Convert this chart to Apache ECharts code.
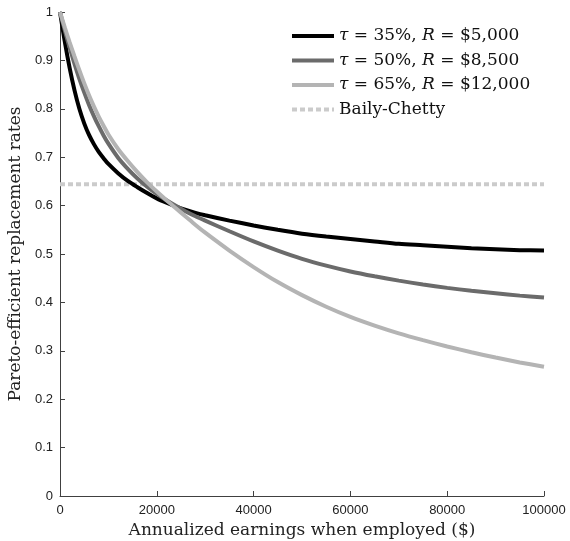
<!DOCTYPE html>
<html>
<head>
<meta charset="utf-8">
<script src="https://cdn.jsdelivr.net/npm/echarts@6/dist/echarts.min.js"></script>
<style>
  html, body { margin: 0; padding: 0; background: #fff; }
  #chart { width: 570px; height: 541px; }
</style>
</head>
<body>
<div id="chart"></div>
<script>
// annualized earnings (x)
var earnings = [0, 1000, 2000, 3000, 4000, 5000, 6000, 7000, 8000, 9000, 10000,
    12000, 14000, 16000, 18000, 20000, 22000, 24000, 26000, 28000, 30000,
    35000, 40000, 45000, 50000, 55000, 60000, 65000, 70000, 75000, 80000,
    85000, 90000, 95000, 100000];

// tau = 35%, R = $5,000
var rate35 = [1.000, 0.938, 0.884, 0.838, 0.800, 0.770, 0.746, 0.727, 0.711, 0.698, 0.686,
    0.667, 0.651, 0.638, 0.626, 0.615, 0.606, 0.598, 0.591, 0.585, 0.580,
    0.569, 0.559, 0.550, 0.542, 0.536, 0.531, 0.526, 0.521, 0.518, 0.515,
    0.512, 0.510, 0.508, 0.507];

// tau = 50%, R = $8,500
var rate50 = [1.000, 0.962, 0.926, 0.893, 0.862, 0.834, 0.808, 0.785, 0.764, 0.745, 0.728,
    0.699, 0.676, 0.656, 0.639, 0.624, 0.611, 0.599, 0.588, 0.578, 0.569,
    0.547, 0.526, 0.507, 0.490, 0.476, 0.464, 0.454, 0.445, 0.437, 0.430,
    0.424, 0.419, 0.414, 0.410];

// tau = 65%, R = $12,000
var rate65 = [1.000, 0.968, 0.937, 0.908, 0.880, 0.853, 0.828, 0.805, 0.784, 0.765, 0.747,
    0.717, 0.692, 0.669, 0.648, 0.629, 0.611, 0.594, 0.577, 0.560, 0.544,
    0.507, 0.473, 0.442, 0.415, 0.391, 0.370, 0.352, 0.336, 0.322, 0.309,
    0.297, 0.286, 0.276, 0.267];

var bailyChetty = 0.644;

var seriesNames = ['t35', 't50', 't65', 'Baily-Chetty'];
var legendLabels = {
    't35': '{i|τ} = 35%, {i|R} = $5,000',
    't50': '{i|τ} = 50%, {i|R} = $8,500',
    't65': '{i|τ} = 65%, {i|R} = $12,000',
    'Baily-Chetty': 'Baily-Chetty'
};

function pairs(xs, ys) {
    return xs.map(function (x, i) { return [x, ys[i]]; });
}

var chart = echarts.init(document.getElementById('chart'), null, { renderer: 'canvas' });

var serif = '"DejaVu Serif", "Liberation Serif", serif';
var sans = '"Liberation Sans", Arial, sans-serif';
var axisColor = '#404040';

// legend icons: solid bar and dotted bar
var solidIcon = 'path://M0,0H42V4H0Z';
var dottedIcon = 'path://M0,0h5v4h-5z M8,0h5v4h-5z M16,0h5v4h-5z M24,0h5v4h-5z M32,0h5v4h-5z M40,0h2v4h-2z';

var option = {
    backgroundColor: '#fff',
    animation: false,
    grid: { left: 60, right: 26, top: 12, bottom: 45, containLabel: false, outerBoundsMode: 'none' },
    legend: {
        data: seriesNames.map(function (n) {
            return { name: n, icon: n === 'Baily-Chetty' ? dottedIcon : solidIcon };
        }),
        orient: 'vertical',
        left: 292,
        top: 26,
        padding: 0,
        itemWidth: 42,
        itemHeight: 4,
        itemGap: 4.5,
        formatter: function (name) { return legendLabels[name]; },
        textStyle: {
            fontFamily: serif,
            fontSize: 17,
            lineHeight: 20,
            color: '#111',
            rich: {
                i: { fontFamily: serif, fontStyle: 'italic', fontSize: 17, lineHeight: 20, color: '#111' }
            }
        }
    },
    xAxis: {
        type: 'value',
        min: 0,
        max: 100000,
        interval: 20000,
        name: 'Annualized earnings when employed ($)',
        nameLocation: 'middle',
        nameGap: 18,
        nameTextStyle: { fontFamily: serif, fontSize: 17, color: '#222' },
        axisLine: { show: true, lineStyle: { color: axisColor, width: 1 } },
        axisTick: { show: true, inside: true, length: 5, lineStyle: { color: axisColor } },
        axisLabel: {
            fontFamily: sans, fontSize: 13, color: '#222', margin: 8,
            formatter: function (v) { return String(v); }
        },
        splitLine: { show: false }
    },
    yAxis: {
        type: 'value',
        min: 0,
        max: 1,
        interval: 0.1,
        name: 'Pareto-efficient replacement rates',
        nameLocation: 'middle',
        nameGap: 31,
        nameTextStyle: { fontFamily: serif, fontSize: 17, color: '#222' },
        axisLine: { show: true, lineStyle: { color: axisColor, width: 1 } },
        axisTick: { show: true, inside: true, length: 5, lineStyle: { color: axisColor } },
        axisLabel: {
            fontFamily: sans, fontSize: 13, color: '#222', margin: 7,
            formatter: function (v) { return String(Math.round(v * 10) / 10); }
        },
        splitLine: { show: false }
    },
    series: [
        {
            name: 't35', type: 'line', symbol: 'none', smooth: 0.3, z: 3,
            lineStyle: { color: '#000000', width: 4 },
            itemStyle: { color: '#000000' },
            data: pairs(earnings, rate35)
        },
        {
            name: 't50', type: 'line', symbol: 'none', smooth: 0.3, z: 4,
            lineStyle: { color: '#6b6b6b', width: 4 },
            itemStyle: { color: '#6b6b6b' },
            data: pairs(earnings, rate50)
        },
        {
            name: 't65', type: 'line', symbol: 'none', smooth: 0.3, z: 5,
            lineStyle: { color: '#b4b4b4', width: 4 },
            itemStyle: { color: '#b4b4b4' },
            data: pairs(earnings, rate65)
        },
        {
            name: 'Baily-Chetty', type: 'line', symbol: 'none', z: 2,
            lineStyle: { color: '#cbcbcb', width: 4, type: [5, 3] },
            itemStyle: { color: '#cbcbcb' },
            data: [[earnings[0], bailyChetty], [earnings[earnings.length - 1], bailyChetty]]
        }
    ]
};

chart.setOption(option);
</script>
</body>
</html>
